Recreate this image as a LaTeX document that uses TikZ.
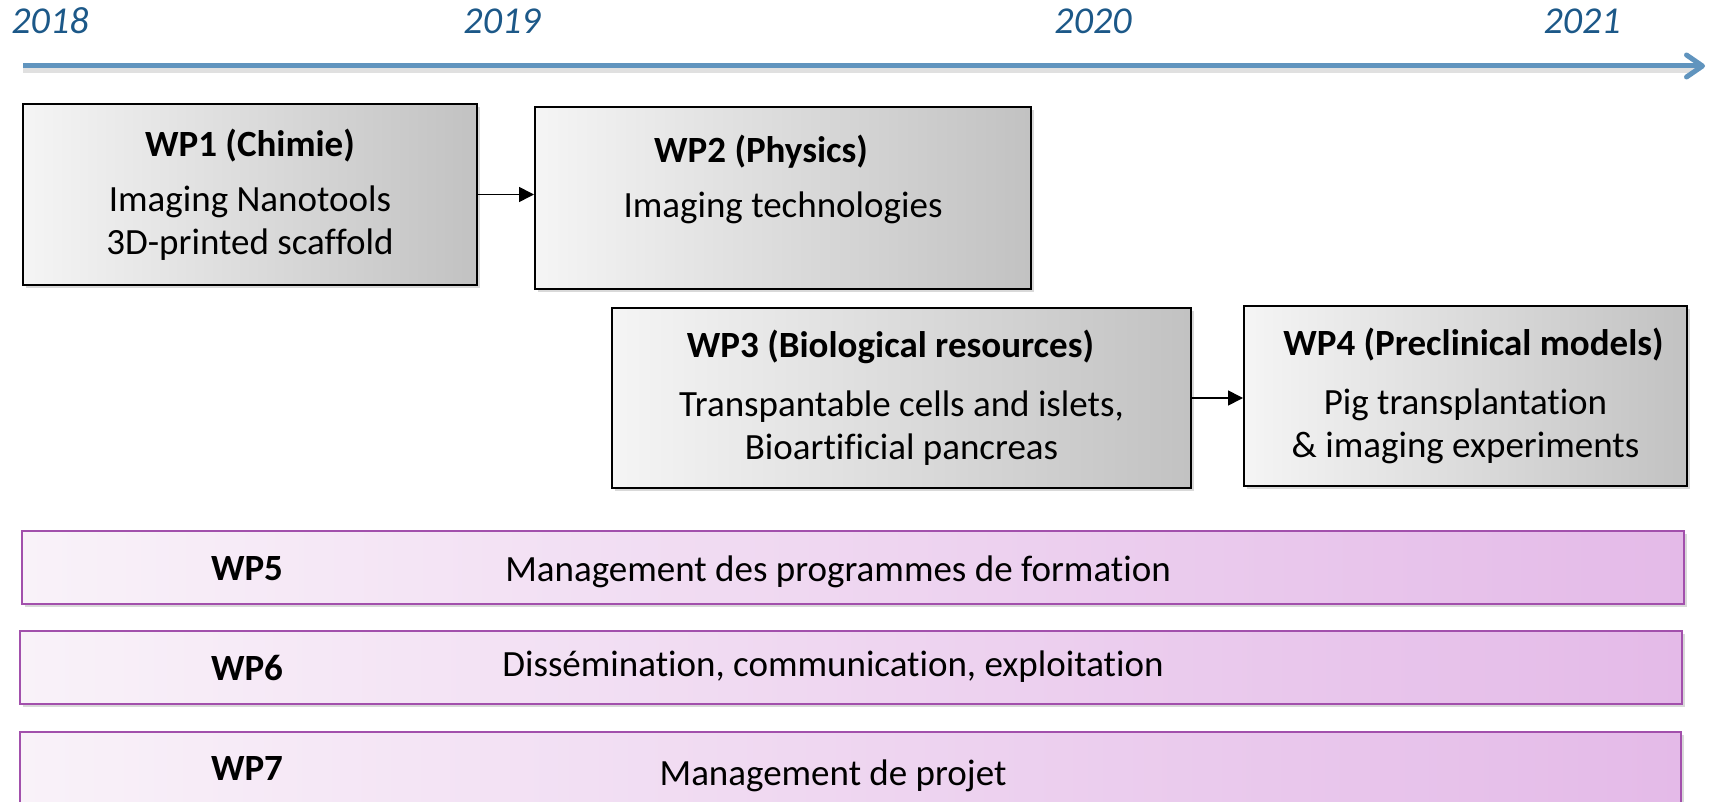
\documentclass[tikz,border=0pt]{standalone}
\usepackage{fontspec}
\setmainfont[Ligatures=NoCommon]{Carlito}
\usetikzlibrary{arrows.meta,shadows}

\definecolor{timeblue}{RGB}{96,148,190}
\definecolor{yearblue}{RGB}{28,88,136}
\definecolor{barpurple}{RGB}{162,80,172}
\definecolor{barleft}{RGB}{249,242,249}
\definecolor{barright}{RGB}{228,186,232}

\tikzset{
  wpbox/.style={draw=black, line width=1pt, left color=black!4, right color=black!24,
    align=center, font=\fontsize{18.5}{21.5}\selectfont,
    drop shadow={shadow xshift=1.5pt, shadow yshift=-1.5pt, opacity=0.3}},
  wpbar/.style={draw=barpurple, line width=1pt, left color=barleft, right color=barright,
    minimum height=36.5pt,
    drop shadow={shadow xshift=1.5pt, shadow yshift=-1.5pt, opacity=0.3}},
  bartitle/.style={font=\fontsize{18.5}{21.5}\selectfont\bfseries},
  bartext/.style={font=\fontsize{18.5}{21.5}\selectfont},
  yearlabel/.style={text=yearblue, font=\fontsize{19}{21.5}\selectfont\itshape},
  wplink/.style={-{Triangle[length=7.5pt,width=7.5pt]}, line width=0.8pt},
}

\begin{document}
\begin{tikzpicture}[x=0.5pt, y=-0.5pt]
  \useasboundingbox (0,0) rectangle (1712,802);

  % time line
  \coordinate (t0) at (23,66);
  \coordinate (t1) at (1705,66);
  \draw[black!12, line width=2.5pt] ([yshift=-2.5pt]t0) -- ([yshift=-2.5pt,xshift=-4pt]t1);
  \draw[timeblue, line width=2.5pt, -{Straight Barb[length=8pt,width=11pt,round]}] (t0) -- (t1);
  \node[yearlabel] (y2018) at (50,21) {2018};
  \node[yearlabel] (y2019) at (502,21) {2019};
  \node[yearlabel] (y2020) at (1093,21) {2020};
  \node[yearlabel] (y2021) at (1582,21) {2021};

  % work packages
  \node[wpbox, minimum width=227pt, minimum height=90.5pt] (wp1) at (250,194.5)
    {\textbf{WP1 (Chimie)}\\[6pt]Imaging Nanotools\\3D-printed scaffold};
  \node[wpbox, minimum width=248pt, minimum height=91pt] (wp2) at (783,198)
    {\textbf{WP2 (Physics)}\hspace*{22pt}\\[6pt]Imaging technologies\\~};
  \node[wpbox, minimum width=289.5pt, minimum height=90pt] (wp3) at (901.5,398)
    {\textbf{WP3 (Biological resources)}\hspace*{11pt}\\[8pt]Transpantable cells and islets,\\Bioartificial pancreas};
  \node[wpbox, minimum width=221.5pt, minimum height=90pt] (wp4) at (1465.5,396)
    {\hspace*{8pt}\textbf{WP4 (Preclinical models)}\\[8pt]Pig transplantation\\\& imaging experiments};
  \draw[wplink] (wp1.east) -- (wp1.east -| wp2.west);
  \draw[wplink] (wp3.east) -- (wp3.east -| wp4.west);

  % transverse work packages
  \node[wpbar, minimum width=831pt] (wp5) at (853,567.5) {};
  \node[wpbar, minimum width=831pt] (wp6) at (851,667.5) {};
  \node[wpbar, minimum width=830.5pt, minimum height=37pt] (wp7) at (850.5,769) {};
  \node[bartitle] (wp5t) at (247,569) {WP5};
  \node[bartext] (wp5d) at (838,572) {Management des programmes de formation};
  \node[bartitle] (wp6t) at (247,668) {WP6};
  \node[bartext] (wp6d) at (833,667) {Dissémination, communication, exploitation};
  \node[bartitle] (wp7t) at (247,768) {WP7};
  \node[bartext] (wp7d) at (833,776) {Management de projet};
\end{tikzpicture}
\end{document}
